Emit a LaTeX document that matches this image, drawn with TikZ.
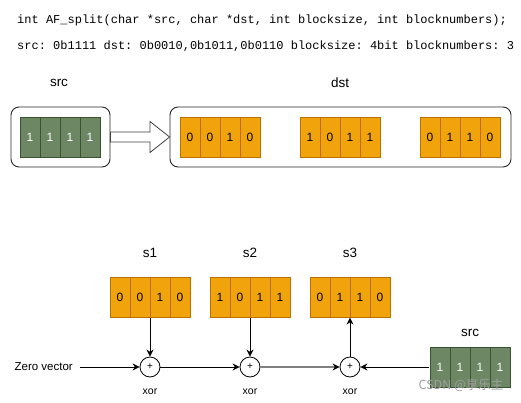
\documentclass[tikz,border=0pt]{standalone}
\usepackage{fontspec}
\setmainfont{Liberation Sans}
\setmonofont{Liberation Mono}
\newfontfamily\cjk{Noto Sans CJK SC}
\usetikzlibrary{positioning,arrows.meta,fit,calc}
\definecolor{bitgreen}{HTML}{6D8764}
\definecolor{bitgreendraw}{HTML}{3A5431}
\definecolor{bitorange}{HTML}{F0A30A}
\definecolor{bitorangedraw}{HTML}{BD7000}
\colorlet{framedraw}{black!85}

\begin{document}
\begin{tikzpicture}[x=1pt,y=-1pt,every node/.style={font=\fontsize{12}{14}\selectfont},
  gbit/.style={draw=bitgreendraw,fill=bitgreen,text=white,line width=.8pt,minimum width=20pt,minimum height=40pt,inner sep=0pt},
  obit/.style={gbit,draw=bitorangedraw,fill=bitorange,text=black},
  frame/.style={draw=framedraw,rounded corners=8pt,line width=.9pt},
  xorop/.style={draw,circle,minimum size=20pt,inner sep=0pt,line width=.8pt,font=\fontsize{10}{10}\selectfont},
  code/.style={anchor=west,inner sep=0pt,font=\ttfamily\fontsize{12}{14}\selectfont},
  title/.style={font=\fontsize{13.5}{15}\selectfont},
  link/.style={-{Stealth[length=7pt,width=7pt]},line width=.8pt}]
  \useasboundingbox (0,0) rectangle (521,403);
  % prototype and example values
  \node[code] (proto) at (17,20) {int AF\_split(char *src, char *dst, int blocksize, int blocknumbers);};
  \node[code] (vals) at (17,46) {src: 0b1111 dst: 0b0010,0b1011,0b0110 blocksize: 4bit blocknumbers: 3};
  % top: src -> dst
  \node[title] (srclbl) at (59,83) {src};
  \node[title] (dstlbl) at (340,83) {dst};
  \node[frame,minimum width=99pt,minimum height=60pt] (srcbox) at (60.5,137) {};
  \node[frame,minimum width=341pt,minimum height=60pt] (dstbox) at (340.5,137) {};
  \foreach \i in {1,...,4}
    \node[gbit] (t\i) at (10+20*\i,137) {1};
  \foreach \v [count=\i] in {0,0,1,0}
    \node[obit] (da\i) at (170+20*\i,137) {\v};
  \foreach \v [count=\i] in {1,0,1,1}
    \node[obit] (db\i) at (290+20*\i,137) {\v};
  \foreach \v [count=\i] in {0,1,1,0}
    \node[obit] (dc\i) at (410+20*\i,137) {\v};
  \draw[draw=black!75,fill=white,line width=.8pt,line join=miter]
    ($(srcbox.east)+(0,-5)$) -- (150,132) -- (150,121.5) -- (dstbox.west)
    -- (150,152.5) -- (150,142) -- ($(srcbox.east)+(0,5)$) -- cycle;
  % bottom: xor chain
  \foreach \v [count=\i] in {0,0,1,0}
    \node[obit] (sa\i) at (100+20*\i,297) {\v};
  \foreach \v [count=\i] in {1,0,1,1}
    \node[obit] (sb\i) at (200+20*\i,297) {\v};
  \foreach \v [count=\i] in {0,1,1,0}
    \node[obit] (sc\i) at (300+20*\i,297) {\v};
  \foreach \i in {1,...,4}
    \node[gbit] (b\i) at (420+20*\i,367) {1};
  \node[fit=(sa1)(sa4),inner sep=0pt] (s1) {};
  \node[fit=(sb1)(sb4),inner sep=0pt] (s2) {};
  \node[fit=(sc1)(sc4),inner sep=0pt] (s3) {};
  \node[fit=(b1)(b4),inner sep=0pt] (srcb) {};
  \node[title] (s1lbl) at (150,253) {s1};
  \node[title] (s2lbl) at (250,253) {s2};
  \node[title] (s3lbl) at (350,253) {s3};
  \node[title] (srcblbl) at (470,333) {src};
  \node[xorop] (x1) at (150,367) {+};
  \node[xorop] (x2) at (250,367) {+};
  \node[xorop] (x3) at (350,367) {+};
  \node[font=\fontsize{10.5}{12}\selectfont] (x1lbl) at (150,392) {xor};
  \node[font=\fontsize{10.5}{12}\selectfont] (x2lbl) at (250,392) {xor};
  \node[font=\fontsize{10.5}{12}\selectfont] (x3lbl) at (350,392) {xor};
  \node[anchor=east,inner xsep=7pt,font=\fontsize{11.5}{13}\selectfont] (zero) at (80,367) {Zero vector};
  \draw[link] (zero) -- (x1);
  \draw[link] (s1) -- (x1);
  \draw[link] (s2) -- (x2);
  \draw[link] (x1) -- (x2);
  \draw[link,draw=black!50,line width=1.5pt,-{Stealth[length=7pt,width=7pt,color=black]}] (x2) -- (x3);
  \draw[link] (x3) -- (s3);
  \draw[link] (srcb) -- (x3);
  \node[anchor=east,text=black!38,font=\cjk\fontsize{12.5}{14}\selectfont] (mark) at (507,385) {CSDN @享乐主};
\end{tikzpicture}
\end{document}
